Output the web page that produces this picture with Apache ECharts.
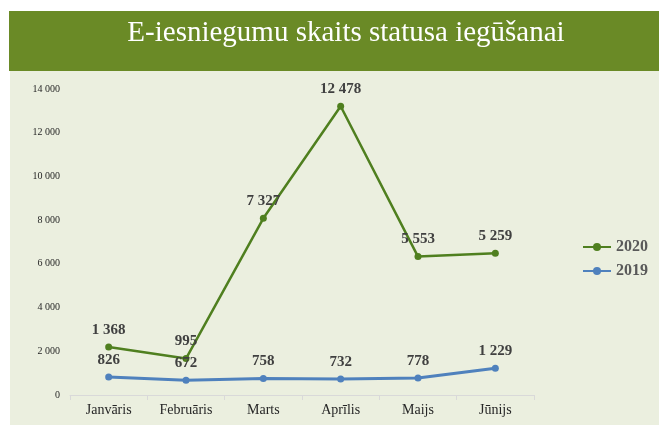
<!DOCTYPE html>
<html>
<head>
<meta charset="utf-8">
<script src="https://cdn.jsdelivr.net/npm/echarts@6/dist/echarts.min.js"></script>
<style>
  html, body { margin: 0; padding: 0; background: #fff; }
  #chart { width: 659px; height: 425px; }
</style>
</head>
<body>
<div id="chart"></div>
<script>
const months = ['Janvāris', 'Februāris', 'Marts', 'Aprīlis', 'Maijs', 'Jūnijs']
const values2019 = [826, 672, 758, 732, 778, 1229]
const values2020 = [1368, 995, 7327, 12478, 5553, 5259]
const yTicks = [0, 2000, 4000, 6000, 8000, 10000, 12000, 14000]

const serif = '"Liberation Serif", "DejaVu Serif", serif'
const fmt = v => String(v).replace(/\B(?=(\d{3})+(?!\d))/g, ' ')

const chart = echarts.init(document.getElementById('chart'), null, { renderer: 'canvas' })

const labelStyle = {
  show: true,
  position: 'top',
  distance: 6,
  fontFamily: serif,
  fontSize: 15,
  fontWeight: 'bold',
  color: '#404040',
}

chart.setOption({
  animation: false,
  textStyle: { fontFamily: serif },
  graphic: [
    { type: 'rect', left: 10, top: 71, shape: { width: 649, height: 354 }, style: { fill: '#ebefdf' }, z: -10 },
    { type: 'rect', left: 9, top: 11, shape: { width: 650, height: 60 }, style: { fill: '#6a8a26' }, z: -10 },
  ],
  title: {
    text: 'E-iesniegumu skaits statusa iegūšanai',
    left: 341,
    top: 14,
    textAlign: 'center',
    textStyle: { color: '#ffffff', fontFamily: serif, fontSize: 29, fontWeight: 'normal' },
  },
  legend: {
    orient: 'vertical',
    left: 577,
    top: 234,
    itemWidth: 28,
    itemHeight: 10,
    itemGap: 8,
    data: ['2020', '2019'],
    textStyle: { color: '#595959', fontFamily: serif, fontSize: 16, fontWeight: 'bold' },
  },
  grid: { left: 70, right: 125, top: 89, bottom: 30, containLabel: false },
  xAxis: {
    type: 'category',
    data: months,
    boundaryGap: true,
    axisLine: { lineStyle: { color: '#d9d9d9', width: 1 } },
    axisTick: { show: true, length: 5, lineStyle: { color: '#d9d9d9' } },
    axisLabel: { color: '#262626', fontFamily: serif, fontSize: 14, margin: 8 },
  },
  yAxis: {
    type: 'value',
    min: 0,
    max: 14000,
    interval: 2000,
    axisLine: { show: false },
    axisTick: { show: false },
    splitLine: { show: false },
    axisLabel: {
      color: '#262626', fontFamily: serif, fontSize: 10, margin: 10,
      formatter: v => yTicks.includes(v) ? fmt(v) : '',
    },
  },
  series: [
    {
      name: '2019',
      type: 'line',
      stack: 'total',
      data: values2019,
      symbol: 'circle',
      symbolSize: 7,
      lineStyle: { color: '#4f81bd', width: 3 },
      itemStyle: { color: '#4f81bd' },
      label: { ...labelStyle, formatter: p => fmt(p.value) },
    },
    {
      name: '2020',
      type: 'line',
      stack: 'total',
      data: values2020,
      symbol: 'circle',
      symbolSize: 7,
      lineStyle: { color: '#4f7f1f', width: 2.5 },
      itemStyle: { color: '#4f7f1f' },
      label: { ...labelStyle, formatter: p => fmt(p.value) },
    },
  ],
})
</script>
</body>
</html>
